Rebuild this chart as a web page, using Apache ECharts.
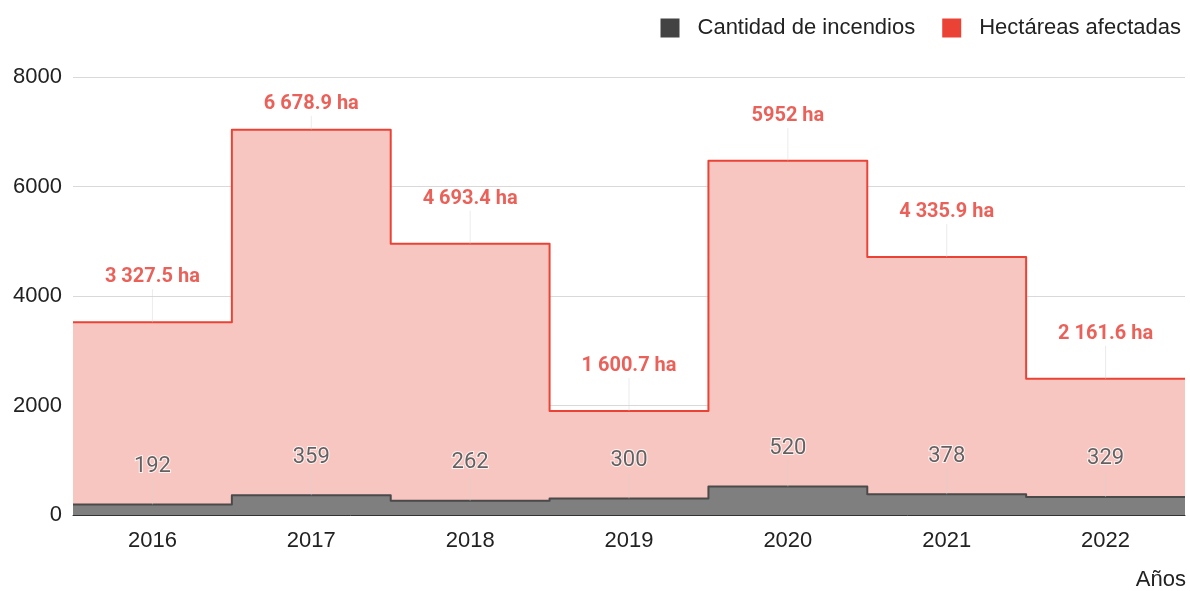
<!DOCTYPE html>
<html>
<head>
<meta charset="utf-8">
<script src="https://cdn.jsdelivr.net/npm/echarts@6/dist/echarts.min.js"></script>
<style>
  html, body { margin: 0; padding: 0; background: #fff; }
  #chart { width: 1190px; height: 591px; }
</style>
</head>
<body>
<div id="chart"></div>
<script>
// datos
const years = ['2016', '2017', '2018', '2019', '2020', '2021', '2022'];
const incendios = [192, 359, 262, 300, 520, 378, 329];
const hectareas = [3327.5, 6678.9, 4693.4, 1600.7, 5952, 4335.9, 2161.6];
const hectareasLabels = ['3 327.5 ha', '6 678.9 ha', '4 693.4 ha', '1 600.7 ha', '5952 ha', '4 335.9 ha', '2 161.6 ha'];
const yTicks = [0, 2000, 4000, 6000, 8000];

const chart = echarts.init(document.getElementById('chart'));

// escalones: cada año ocupa [i, i+1] en el eje x numérico
function steps(values) {
  const out = values.map((v, i) => [i, v]);
  out.push([values.length, values[values.length - 1]]);
  return out;
}

// hectáreas apiladas sobre incendios
const totals = hectareas.map((v, i) => v + incendios[i]);

const arial = '"Liberation Sans", Arial, sans-serif';
const roboto = 'Roboto, "Liberation Sans", Arial, sans-serif';

const option = {
  animation: false,
  textStyle: { fontFamily: arial },
  legend: {
    right: 4,
    top: 12,
    itemWidth: 19,
    itemHeight: 19,
    itemGap: 27,
    icon: 'rect',
    textStyle: { fontSize: 22, color: '#222', fontFamily: arial, padding: [0, 0, 0, 13] },
    data: [
      { name: 'Cantidad de incendios', itemStyle: { color: '#434343' } },
      { name: 'Hectáreas afectadas', itemStyle: { color: '#ea4335' } }
    ]
  },
  title: {
    text: 'Años',
    right: 4,
    bottom: 0,
    padding: 0,
    textStyle: { fontSize: 22, fontWeight: 'normal', color: '#222', fontFamily: arial }
  },
  grid: { left: 73, right: 5, top: 77, bottom: 76 },
  xAxis: [
    { type: 'value', min: 0, max: years.length, show: false },
    {
      type: 'category',
      data: years,
      position: 'bottom',
      boundaryGap: true,
      axisLine: { show: true, lineStyle: { color: '#333', width: 1 } },
      axisTick: { show: false },
      axisLabel: { fontSize: 22, color: '#222', margin: 15, fontFamily: arial }
    }
  ],
  yAxis: {
    type: 'value',
    min: yTicks[0],
    max: yTicks[yTicks.length - 1],
    interval: 2000,
    axisLine: { show: false },
    axisTick: { show: false },
    axisLabel: { fontSize: 22, color: '#222', margin: 11, fontFamily: arial, formatter: v => String(v) },
    splitLine: { lineStyle: { color: '#d9d9d9' } }
  },
  series: [
    {
      name: 'Hectáreas afectadas',
      type: 'line',
      xAxisIndex: 0,
      step: 'end',
      symbol: 'none',
      data: steps(totals),
      lineStyle: { color: '#ea4335', width: 2, join: 'round' },
      areaStyle: { color: '#f8c6c1', opacity: 1 },
      itemStyle: { color: '#ea4335' },
      z: 2
    },
    {
      name: 'Cantidad de incendios',
      type: 'line',
      xAxisIndex: 0,
      step: 'end',
      symbol: 'none',
      data: steps(incendios),
      lineStyle: { color: '#4a4a4a', width: 2, join: 'round' },
      areaStyle: { color: '#7f7f7f', opacity: 1 },
      itemStyle: { color: '#434343' },
      z: 3
    }
  ]
};

chart.setOption(option);

// etiquetas con línea guía; se acercan al área si no caben bajo el borde superior
const topLimit = 94;
function labelSeries(values, texts, style, gap) {
  return {
    type: 'scatter',
    xAxisIndex: 0,
    symbol: 'rect',
    silent: true,
    itemStyle: { color: 'rgba(210,210,210,0.55)' },
    data: values.map((v, i) => {
      const py = chart.convertToPixel({ xAxisIndex: 0, yAxisIndex: 0 }, [i + 0.5, v])[1];
      const d = Math.max(8, Math.min(gap, py - style.fontSize - 2 - topLimit));
      return {
        value: [i + 0.5, v],
        symbolSize: [1, d],
        symbolOffset: [0, -d / 2]
      };
    }),
    label: Object.assign({
      show: true,
      position: 'top',
      distance: 2,
      formatter: p => texts[p.dataIndex],
      fontFamily: roboto
    }, style),
    z: 5
  };
}

chart.setOption({
  series: option.series.concat([
    labelSeries(totals, hectareasLabels,
      { fontSize: 20, fontWeight: 'bold', color: '#e5392f' }, 33),
    labelSeries(incendios, incendios.map(String),
      { fontSize: 22, color: '#3c3c3c', textBorderColor: '#fff', textBorderWidth: 2 }, 25)
  ])
});
</script>
</body>
</html>
